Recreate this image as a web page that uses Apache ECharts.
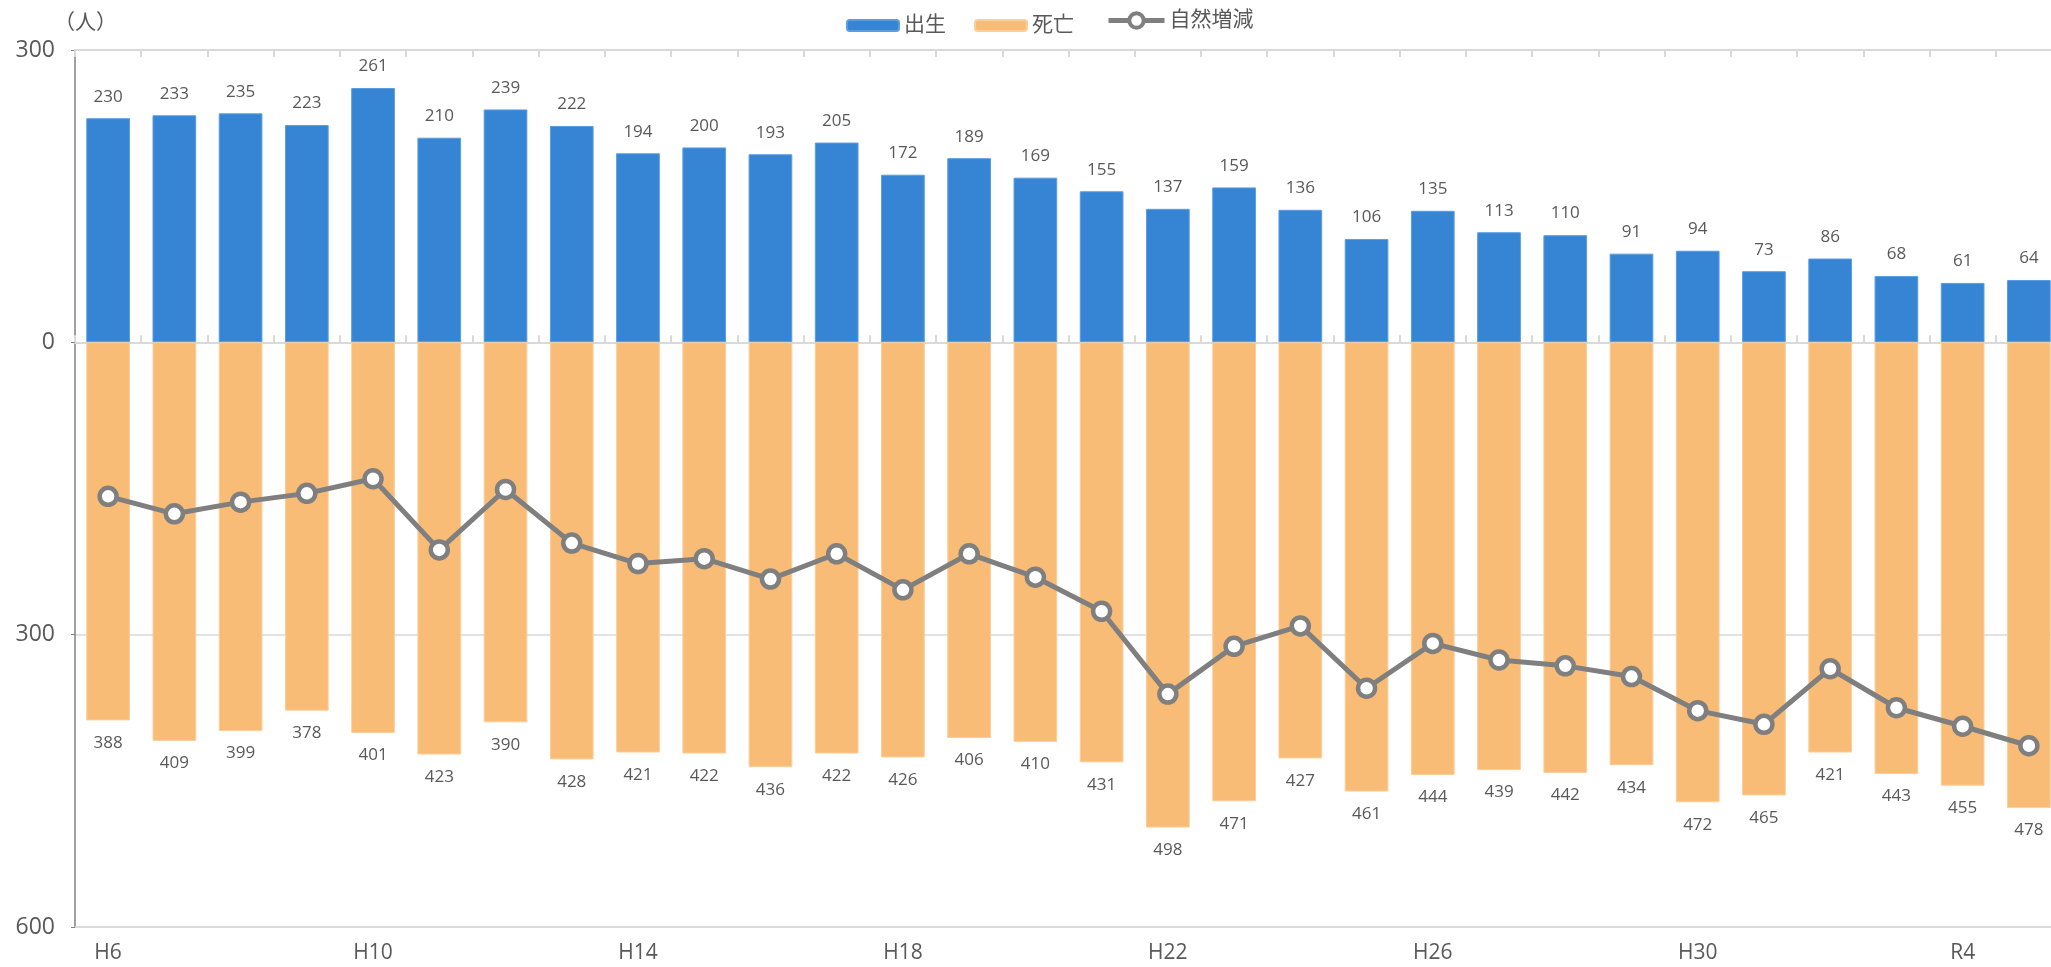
<!DOCTYPE html>
<html>
<head>
<meta charset="utf-8">
<script src="https://cdn.jsdelivr.net/npm/echarts@6/dist/echarts.min.js"></script>
<style>
  html, body { margin: 0; padding: 0; background: #fff; }
  #chart { width: 2051px; height: 967px; }
</style>
</head>
<body>
<div id="chart"></div>
<script>
// 年度
const years = ['H6', 'H7', 'H8', 'H9', 'H10', 'H11', 'H12', 'H13', 'H14', 'H15',
  'H16', 'H17', 'H18', 'H19', 'H20', 'H21', 'H22', 'H23', 'H24', 'H25',
  'H26', 'H27', 'H28', 'H29', 'H30', 'R1', 'R2', 'R3', 'R4', 'R5'];
// 出生
const births = [230, 233, 235, 223, 261, 210, 239, 222, 194, 200,
  193, 205, 172, 189, 169, 155, 137, 159, 136, 106,
  135, 113, 110, 91, 94, 73, 86, 68, 61, 64];
// 死亡 (下向きに描く)
const deaths = [-388, -409, -399, -378, -401, -423, -390, -428, -421, -422,
  -436, -422, -426, -406, -410, -431, -498, -471, -427, -461,
  -444, -439, -442, -434, -472, -465, -421, -443, -455, -478];
// 自然増減
const naturalChange = [-158, -176, -164, -155, -140, -213, -151, -206, -227, -222,
  -243, -217, -254, -217, -241, -276, -361, -312, -291, -355,
  -309, -326, -332, -343, -378, -392, -335, -375, -394, -414];

const font = "'Open Sans', 'Noto Sans CJK JP', sans-serif";
const textColor = '#595959';
const gridColor = '#d9d9d9';

const myChart = echarts.init(document.getElementById('chart'), null, { renderer: 'canvas' });

const option = {
  animation: false,
  textStyle: { fontFamily: font },
  legend: [
    {
      left: 841, top: 10,
      itemWidth: 52, itemHeight: 11, itemGap: 28,
      textStyle: { color: textColor, fontSize: 21, fontFamily: font },
      data: ['出生', '死亡']
    },
    {
      left: 1101, top: 5,
      itemWidth: 56, itemHeight: 18,
      lineStyle: { width: 5, color: '#7f7f7f' },
      itemStyle: { color: '#ffffff', borderColor: '#7f7f7f', borderWidth: 4 },
      textStyle: { color: textColor, fontSize: 21, fontFamily: font },
      data: ['自然増減']
    }
  ],
  graphic: [{
    type: 'text', left: 54, top: 13,
    style: { text: '（人）', fill: textColor, fontSize: 21, fontFamily: font }
  }],
  grid: { left: 75, top: 50, height: 877, width: 1987, containLabel: false, outerBoundsMode: 'none' },
  xAxis: [
    {
      type: 'category', data: years, position: 'bottom',
      axisLine: { onZero: false, lineStyle: { color: gridColor, width: 1.5 } },
      axisTick: { show: false },
      axisLabel: { interval: 3, color: textColor, fontSize: 21, margin: 16, fontFamily: font }
    },
    {
      type: 'category', data: years,
      axisLine: { onZero: true, lineStyle: { color: gridColor, width: 2 } },
      axisTick: { show: true, interval: 0, length: 7, lineStyle: { color: gridColor, width: 2 } },
      axisLabel: { show: false }
    },
    {
      type: 'category', data: years,
      axisLine: { onZero: true, lineStyle: { color: gridColor, width: 2 } },
      axisTick: { show: true, inside: true, interval: 0, length: 7, lineStyle: { color: gridColor, width: 2 } },
      axisLabel: { show: false }
    }
  ],
  yAxis: {
    type: 'value', min: -600, max: 300, interval: 300,
    axisLine: { show: true, lineStyle: { color: '#808080', width: 1.5 } },
    axisTick: { show: true, length: 4, lineStyle: { color: '#808080' } },
    splitLine: { lineStyle: { color: gridColor, width: 1.5 } },
    axisLabel: {
      color: textColor, fontSize: 23, margin: 20, fontFamily: font,
      formatter: v => Math.abs(v)
    }
  },
  series: [
    {
      name: '出生', type: 'bar', data: births,
      barWidth: '66%', barGap: '-100%',
      itemStyle: { color: '#3585d4', borderColor: '#5c9de0', borderWidth: 1 },
      label: { show: true, position: 'top', distance: 13, color: textColor, fontSize: 17, fontFamily: font }
    },
    {
      name: '死亡', type: 'bar', data: deaths,
      barWidth: '66%', barGap: '-100%',
      itemStyle: { color: '#f8bc77', borderColor: '#fbcf9a', borderWidth: 1 },
      label: {
        show: true, position: 'bottom', distance: 14, color: textColor, fontSize: 17, fontFamily: font,
        formatter: p => Math.abs(p.value)
      }
    },
    {
      name: '自然増減', type: 'line', data: naturalChange, z: 5,
      symbol: 'circle', symbolSize: 17,
      lineStyle: { color: '#7f7f7f', width: 5 },
      itemStyle: { color: '#ffffff', borderColor: '#7f7f7f', borderWidth: 4.5 }
    }
  ]
};

myChart.setOption(option);
window.onresize = function () {
  myChart.resize();
};
</script>
</body>
</html>
